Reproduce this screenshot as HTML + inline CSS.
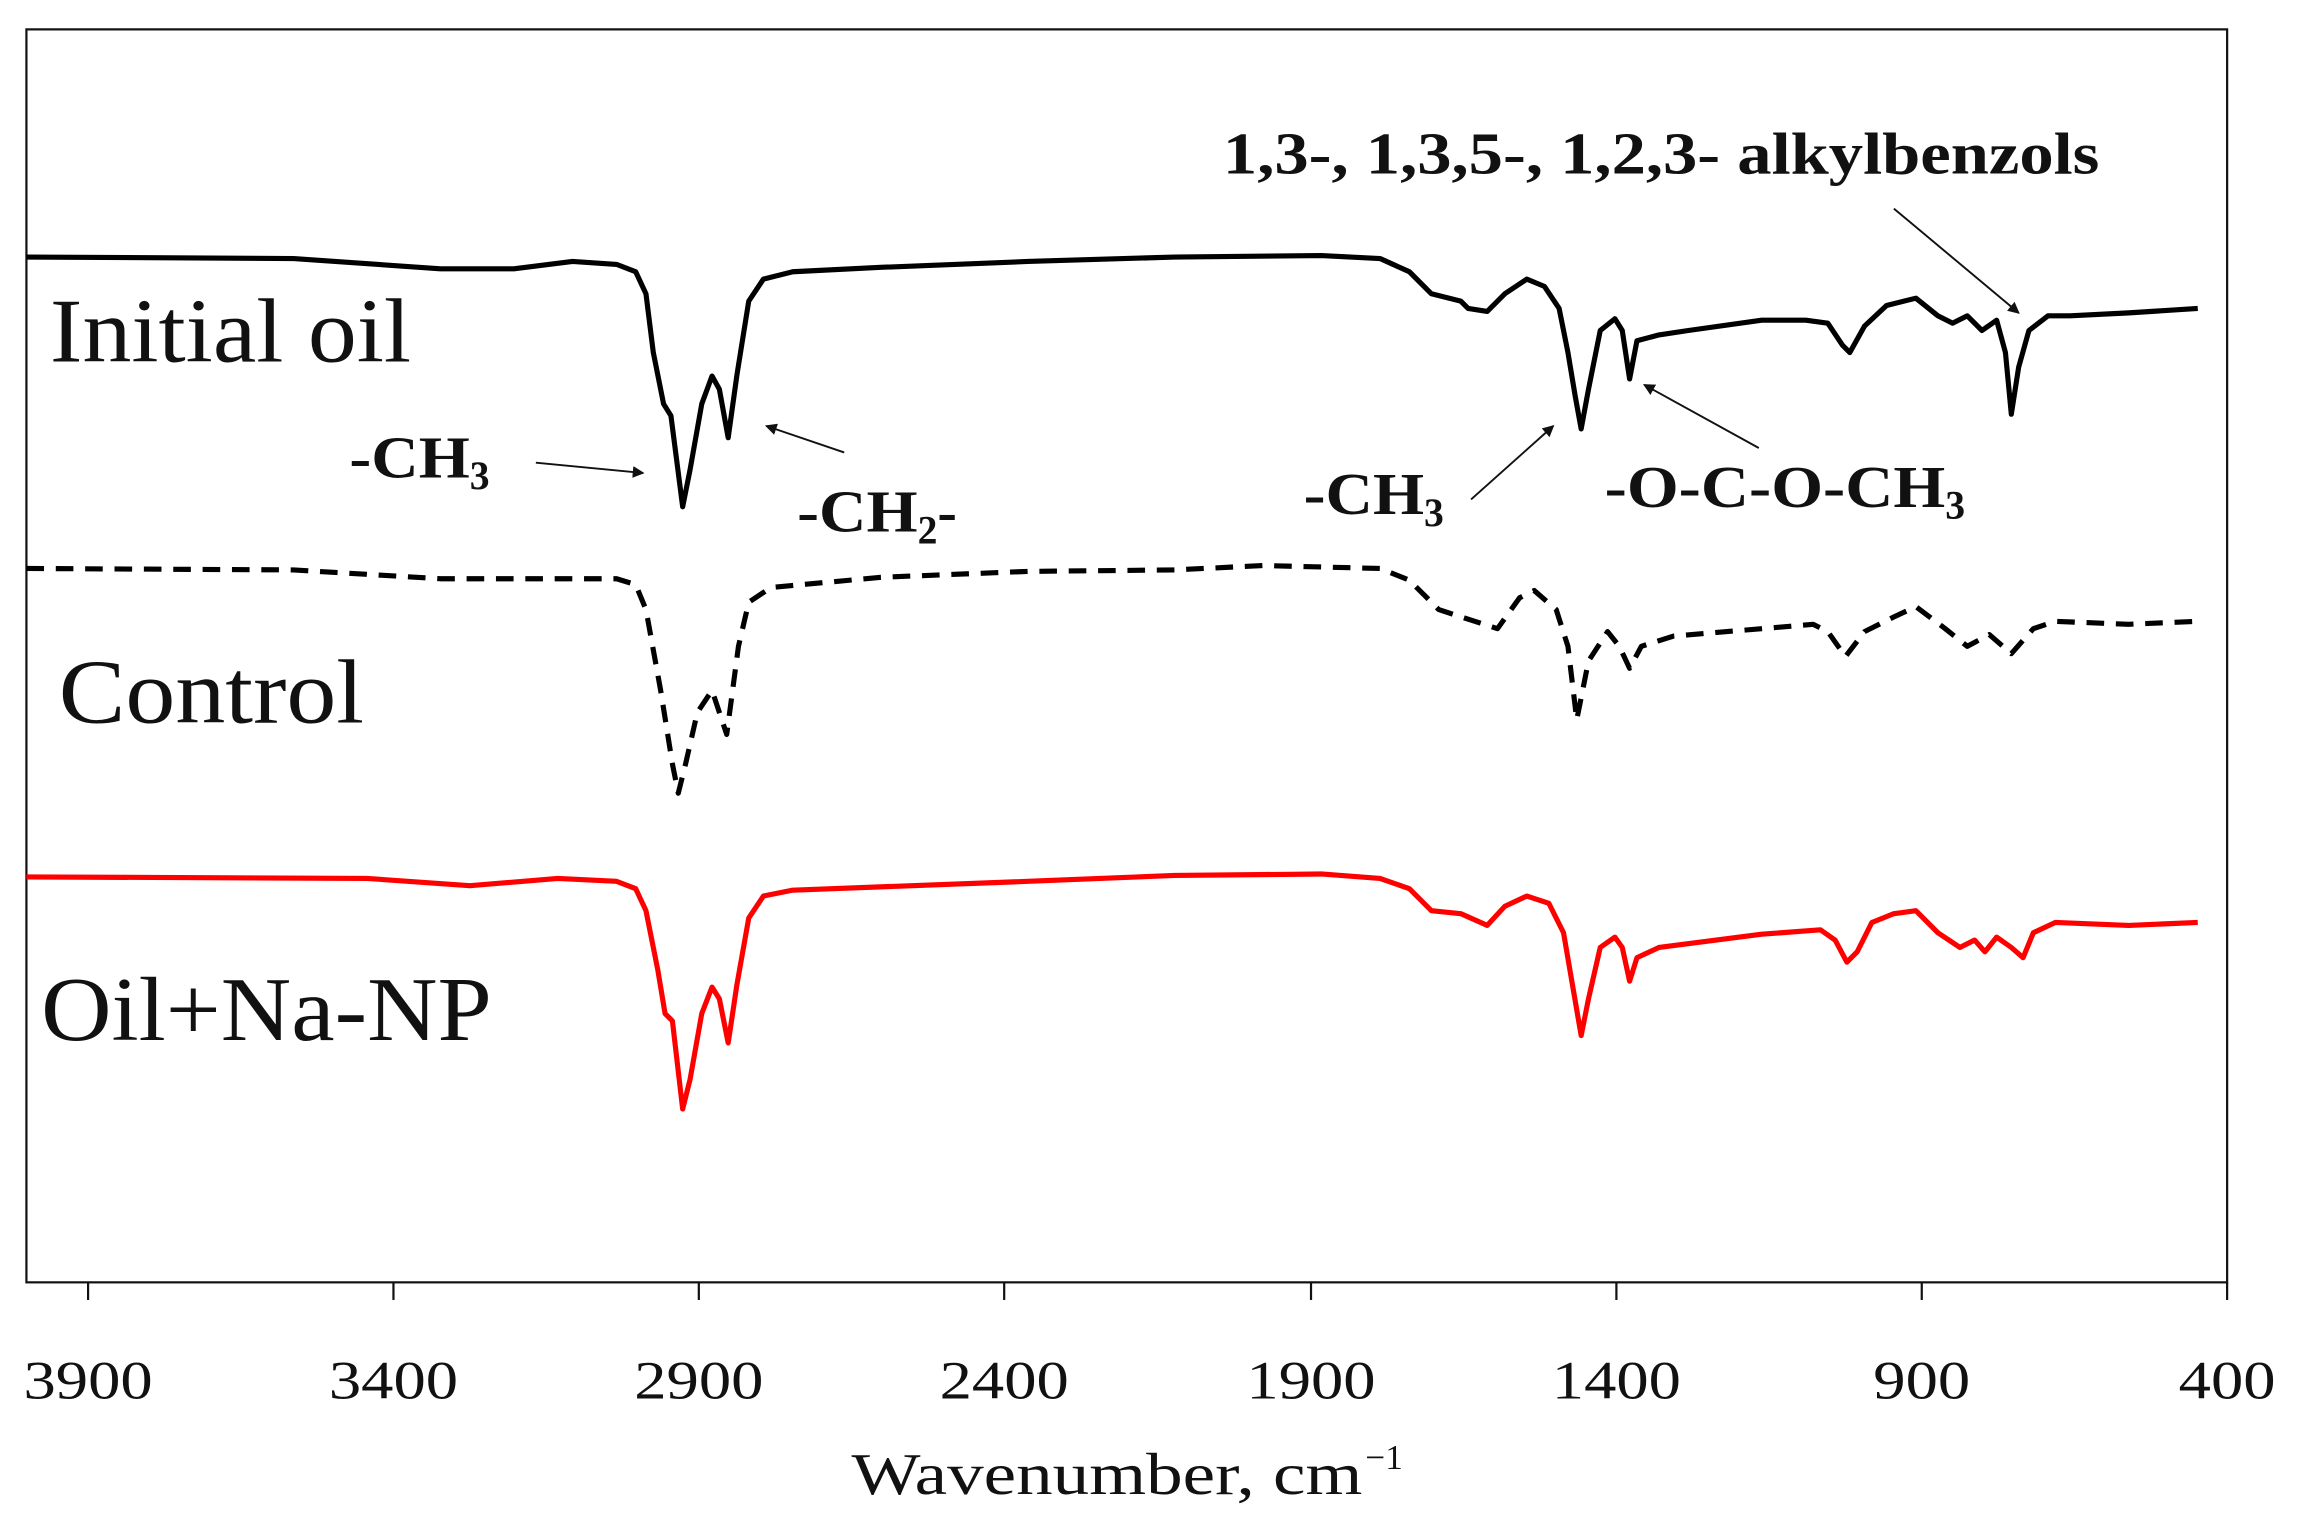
<!DOCTYPE html>
<html><head><meta charset="utf-8"><style>
html,body{margin:0;padding:0;background:#fff;}
svg{display:block;}
text{font-family:"Liberation Serif",serif;fill:#111;}
</style></head><body>
<svg width="2302" height="1535" viewBox="0 0 1568 1045" preserveAspectRatio="none" xmlns="http://www.w3.org/2000/svg">
<defs><marker id="ah" markerWidth="8" markerHeight="8" refX="7" refY="4" orient="auto" markerUnits="userSpaceOnUse"><path d="M0,0 L8,4 L0,8 z" fill="#111"/></marker></defs>
<rect x="18" y="20" width="1499" height="853" fill="none" stroke="#111" stroke-width="1.5"/>
<g stroke="#111" stroke-width="1.5">
<line x1="60" y1="873" x2="60" y2="885"/><line x1="268" y1="873" x2="268" y2="885"/><line x1="476" y1="873" x2="476" y2="885"/><line x1="684" y1="873" x2="684" y2="885"/><line x1="893" y1="873" x2="893" y2="885"/><line x1="1101" y1="873" x2="1101" y2="885"/><line x1="1309" y1="873" x2="1309" y2="885"/><line x1="1517" y1="873" x2="1517" y2="885"/>
</g>
<g font-size="37" text-anchor="middle">
<text x="60" y="952" textLength="88" lengthAdjust="spacingAndGlyphs">3900</text><text x="268" y="952" textLength="88" lengthAdjust="spacingAndGlyphs">3400</text><text x="476" y="952" textLength="88" lengthAdjust="spacingAndGlyphs">2900</text><text x="684" y="952" textLength="88" lengthAdjust="spacingAndGlyphs">2400</text><text x="893" y="952" textLength="88" lengthAdjust="spacingAndGlyphs">1900</text><text x="1101" y="952" textLength="88" lengthAdjust="spacingAndGlyphs">1400</text><text x="1309" y="952" textLength="66" lengthAdjust="spacingAndGlyphs">900</text><text x="1517" y="952" textLength="66" lengthAdjust="spacingAndGlyphs">400</text>
</g>
<text x="580" y="1017" font-size="40" textLength="348" lengthAdjust="spacingAndGlyphs">Wavenumber, cm</text><text x="930" y="1000" font-size="24">−1</text>

<polyline fill="none" stroke="#000" stroke-width="3.5" stroke-linejoin="round" points="18,175 200,176 300,183 350,183 390,178 420,180 433,185 440,200 445,240 452,275 457,283 465,345 470,320 478,275 485,256 490,265 496,298 502,255 510,205 520,190 540,185 600,182 700,178 800,175 900,174 940,176 960,185 975,200 995,205 1000,210 1013,212 1025,200 1040,190 1052,195 1062,210 1068,240 1073,270 1077,292 1082,265 1090,225 1100,217 1105,225 1110,258 1115,232 1130,228 1150,225 1200,218 1230,218 1245,220 1255,235 1260,240 1270,222 1285,208 1305,203 1320,215 1330,220 1340,215 1350,225 1360,218 1366,240 1370,282 1375,250 1382,225 1395,215 1410,215 1450,213 1497,210"/>
<polyline fill="none" stroke="#000" stroke-width="3.5" stroke-dasharray="12,8" stroke-linejoin="round" points="18,387 200,388 300,394 420,394 433,398 440,415 450,470 458,520 462,540 467,520 475,485 485,470 495,500 503,440 510,410 525,400 600,393 700,389 800,388 860,385 940,387 960,395 980,415 1020,428 1035,407 1045,402 1060,415 1068,440 1074,490 1082,450 1095,430 1103,440 1110,455 1118,440 1140,433 1200,428 1235,425 1245,430 1257,447 1270,430 1290,420 1305,413 1325,428 1340,440 1355,432 1370,445 1385,428 1400,423 1450,425 1497,423"/>
<polyline fill="none" stroke="#ff0000" stroke-width="3.5" stroke-linejoin="round" points="18,597 250,598 320,603 380,598 420,600 433,605 440,620 448,660 453,690 458,695 465,755 470,735 478,690 485,672 490,680 496,710 502,670 510,625 520,610 540,606 700,600 800,596 900,595 940,598 960,605 975,620 995,622 1013,630 1025,617 1040,610 1055,615 1065,635 1071,670 1077,705 1082,680 1090,645 1100,638 1105,645 1110,668 1115,652 1130,645 1200,636 1240,633 1250,640 1258,655 1265,648 1275,628 1290,622 1305,620 1320,635 1335,645 1345,640 1352,648 1360,638 1370,645 1378,652 1385,635 1400,628 1450,630 1497,628"/>

<text x="34" y="246" font-size="62" textLength="246" lengthAdjust="spacingAndGlyphs">Initial oil</text>
<text x="40" y="492" font-size="62" textLength="208" lengthAdjust="spacingAndGlyphs">Control</text>
<text x="28" y="708" font-size="62" textLength="307" lengthAdjust="spacingAndGlyphs">Oil+Na-NP</text>

<g font-size="40" font-weight="bold">
<text x="238" y="325"><tspan textLength="82" lengthAdjust="spacingAndGlyphs">-CH</tspan><tspan dy="8" font-size="27">3</tspan></text>
<text x="543" y="362"><tspan textLength="82" lengthAdjust="spacingAndGlyphs">-CH</tspan><tspan dy="8" font-size="27">2</tspan><tspan dy="-8">-</tspan></text>
<text x="888" y="350"><tspan textLength="82" lengthAdjust="spacingAndGlyphs">-CH</tspan><tspan dy="8" font-size="27">3</tspan></text>
<text x="1093" y="345"><tspan textLength="232" lengthAdjust="spacingAndGlyphs">-O-C-O-CH</tspan><tspan dy="8" font-size="27">3</tspan></text>
<text x="833" y="118" textLength="597" lengthAdjust="spacingAndGlyphs">1,3-, 1,3,5-, 1,2,3- alkylbenzols</text>
</g>
<g stroke="#111" stroke-width="1.3" marker-end="url(#ah)">
<line x1="365" y1="315" x2="438" y2="322"/>
<line x1="575" y1="308" x2="522" y2="290"/>
<line x1="1002" y1="340" x2="1058" y2="290"/>
<line x1="1198" y1="305" x2="1120" y2="262"/>
<line x1="1290" y1="142" x2="1375" y2="213"/>
</g>
</svg>
</body></html>
